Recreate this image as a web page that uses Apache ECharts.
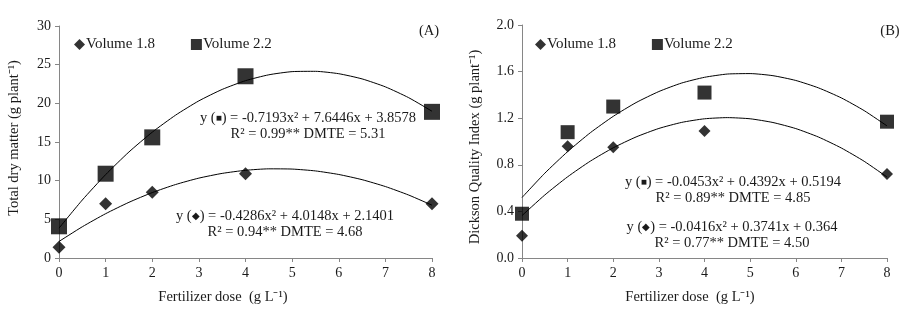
<!DOCTYPE html>
<html>
<head>
<meta charset="utf-8">
<script src="https://cdn.jsdelivr.net/npm/echarts@6/dist/echarts.min.js"></script>
<style>
  html, body { margin: 0; padding: 0; background: #fff; }
  #chart { width: 911px; height: 318px; }
</style>
</head>
<body>
<div id="chart"></div>
<script>
// measured doses
var doses = [0, 1, 2, 4, 8];
// fitted curve x positions
var curveX = [0, 0.5, 1, 1.5, 2, 2.5, 3, 3.5, 4, 4.5, 5, 5.5, 6, 6.5, 7, 7.5, 8];

// (A) total dry matter
var dryVol18 = [1.4, 7.0, 8.5, 10.9, 7.0];
var dryVol22 = [4.1, 10.9, 15.6, 23.5, 18.9];
var dryFit18 = [2.14, 4.04, 5.73, 7.20, 8.46, 9.50, 10.33, 10.94, 11.34, 11.53, 11.50, 11.26, 10.80, 10.13, 9.24, 8.14, 6.83];
var dryFit22 = [3.86, 7.50, 10.78, 13.71, 16.27, 18.47, 20.32, 21.80, 22.93, 23.69, 24.10, 24.14, 23.83, 23.16, 22.13, 20.73, 18.98];

// (B) Dickson quality index
var dqiVol18 = [0.19, 0.96, 0.95, 1.09, 0.72];
var dqiVol22 = [0.38, 1.08, 1.30, 1.42, 1.17];
var dqiFit18 = [0.364, 0.541, 0.697, 0.832, 0.946, 1.039, 1.112, 1.164, 1.195, 1.205, 1.195, 1.163, 1.111, 1.038, 0.944, 0.830, 0.695];
var dqiFit22 = [0.519, 0.728, 0.913, 1.076, 1.216, 1.334, 1.429, 1.502, 1.551, 1.579, 1.583, 1.565, 1.524, 1.460, 1.374, 1.265, 1.134];

var chartDom = document.getElementById('chart');
var myChart = echarts.init(chartDom);
var option;

var font = 'Liberation Serif';
var textColor = '#1a1a1a';
var axisColor = '#868686';

function pairs(xs, ys) {
  return xs.map(function (x, i) { return [x, ys[i]]; });
}

function xAxisCfg(gi) {
  return {
    type: 'value', gridIndex: gi, min: 0, max: 8, interval: 1,
    axisLine: { lineStyle: { color: axisColor } },
    axisTick: { show: true, length: 4, lineStyle: { color: axisColor } },
    axisLabel: { color: textColor, fontFamily: font, fontSize: 14, margin: 8 },
    splitLine: { show: false }
  };
}

function yAxisCfg(gi, max, interval, fmt) {
  return {
    type: 'value', gridIndex: gi, min: 0, max: max, interval: interval,
    axisLine: { show: true, lineStyle: { color: axisColor } },
    axisTick: { show: true, length: 4, lineStyle: { color: axisColor } },
    axisLabel: { color: textColor, fontFamily: font, fontSize: 14, margin: 8, formatter: fmt },
    splitLine: { show: false }
  };
}

function scatter(name, gi, ys, sym, size) {
  return {
    name: name, type: 'scatter', xAxisIndex: gi, yAxisIndex: gi,
    symbol: sym, symbolSize: size, data: pairs(doses, ys),
    itemStyle: { color: '#000' }, z: 5
  };
}

function curve(gi, ys) {
  return {
    type: 'line', xAxisIndex: gi, yAxisIndex: gi, smooth: 0.2,
    symbol: 'none', data: pairs(curveX, ys),
    lineStyle: { color: '#000', width: 1 }, silent: true
  };
}

function txt(x, y, str, extra) {
  var t = {
    type: 'text', x: x, y: y,
    style: {
      text: str, fontFamily: font, fontSize: 14.5, fill: textColor,
      align: 'center', verticalAlign: 'middle',
      rich: {
        s: { fontFamily: font, fontSize: 10, fill: textColor }
      }
    }
  };
  if (extra) Object.assign(t, extra);
  return t;
}

function legendCfg(left) {
  return {
    left: left, top: 32, itemGap: 36, itemWidth: 11, itemHeight: 11,
    textStyle: { color: textColor, fontFamily: font, fontSize: 15, padding: [0, 0, 0, -4] },
    data: [
      { name: 'Volume 1.8', icon: 'diamond' },
      { name: 'Volume 2.2', icon: 'rect' }
    ]
  };
}

option = {
  animation: false,
  backgroundColor: '#fff',
  grid: [
    { left: 59, top: 26, width: 373, height: 232 },
    { left: 522, top: 25, width: 365, height: 233 }
  ],
  legend: [legendCfg(69), legendCfg(530)],
  xAxis: [xAxisCfg(0), xAxisCfg(1)],
  yAxis: [
    yAxisCfg(0, 30, 5),
    yAxisCfg(1, 2.0, 0.4, function (v) { return v.toFixed(1); })
  ],
  series: [
    curve(0, dryFit18),
    curve(0, dryFit22),
    scatter('Volume 1.8', 0, dryVol18, 'diamond', 13),
    scatter('Volume 2.2', 0, dryVol22, 'rect', 16),
    curve(1, dqiFit18),
    curve(1, dqiFit22),
    scatter('Volume 1.8', 1, dqiVol18, 'diamond', 12),
    scatter('Volume 2.2', 1, dqiVol22, 'rect', 14)
  ],
  graphic: [
    txt(429, 31, '(A)'),
    txt(890, 31, '(B)'),
    txt(308, 118, 'y ({s|\u25A0}) = -0.7193x\u00B2 + 7.6446x + 3.8578'),
    txt(308, 134, 'R\u00B2 = 0.99** DMTE = 5.31'),
    txt(285, 216, 'y ({s|\u25C6}) = -0.4286x\u00B2 + 4.0148x + 2.1401'),
    txt(285, 232, 'R\u00B2 = 0.94** DMTE = 4.68'),
    txt(733, 182, 'y ({s|\u25A0}) = -0.0453x\u00B2 + 0.4392x + 0.5194'),
    txt(733, 198, 'R\u00B2 = 0.89** DMTE = 4.85'),
    txt(732, 227, 'y ({s|\u25C6}) = -0.0416x\u00B2 + 0.3741x + 0.364'),
    txt(732, 243, 'R\u00B2 = 0.77** DMTE = 4.50'),
    txt(223, 297, 'Fertilizer dose  (g L\u207B\u00B9)'),
    txt(690, 297, 'Fertilizer dose  (g L\u207B\u00B9)'),
    txt(14, 138, 'Total dry matter (g plant\u207B\u00B9)', { rotation: Math.PI / 2 }),
    txt(475, 147, 'Dickson Quality Index (g plant\u207B\u00B9)', { rotation: Math.PI / 2 })
  ]
};

option && myChart.setOption(option);
</script>
</body>
</html>
